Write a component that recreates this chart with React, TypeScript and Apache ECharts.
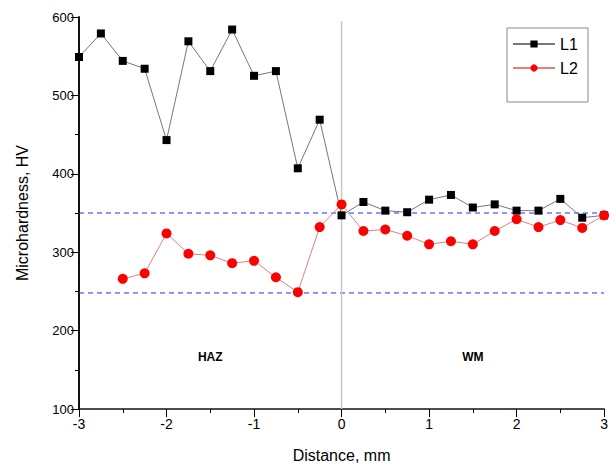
import React, { useEffect, useRef } from "react";
import * as echarts from "echarts";

const distances = [-3, -2.75, -2.5, -2.25, -2, -1.75, -1.5, -1.25, -1, -0.75, -0.5, -0.25, 0, 0.25, 0.5, 0.75, 1, 1.25, 1.5, 1.75, 2, 2.25, 2.5, 2.75, 3];
const l1Values = [549, 579, 544, 534, 443, 569, 531, 584, 525, 531, 407, 469, 347, 364, 353, 351, 367, 373, 357, 361, 353, 353, 368, 344, 347];
const l2Distances = [-2.5, -2.25, -2, -1.75, -1.5, -1.25, -1, -0.75, -0.5, -0.25, 0, 0.25, 0.5, 0.75, 1, 1.25, 1.5, 1.75, 2, 2.25, 2.5, 2.75, 3];
const l2Values = [266, 273, 324, 298, 296, 286, 289, 268, 249, 332, 361, 327, 329, 321, 310, 314, 310, 327, 342, 332, 341, 331, 347];
const limitLines = [350, 248];
const zeroLine = { x: 0, yFrom: 100, yTo: 595 };
const zoneLabels = [
  { name: "HAZ", x: -1.5, y: 166 },
  { name: "WM", x: 1.5, y: 166 },
];

const FONT = "Liberation Sans, Arial, sans-serif";

export default function App() {
  const ref = useRef<HTMLDivElement>(null);
  useEffect(() => {
    if (!ref.current) return;
    const chart = echarts.init(ref.current, null, { renderer: "svg" });
    const limitSeries = limitLines.map((v, i) => ({
      name: "limit" + i,
      type: "line",
      data: [[-3, v], [3, v]],
      symbol: "none",
      silent: true,
      lineStyle: { color: "#2a2aff", type: [5, 4], width: 1 },
      z: 1,
    }));
    chart.setOption({
      animation: false,
      textStyle: { fontFamily: FONT },
      grid: { left: 79, right: 2, top: 17, bottom: 59, containLabel: false },
      legend: {
        orient: "vertical",
        left: 512,
        top: 36,
        itemWidth: 42,
        itemHeight: 9,
        itemGap: 8,
        padding: 0,
        textStyle: { fontSize: 16, color: "#000", fontFamily: FONT },
        data: ["L1", "L2"],
      },
      graphic: [
        {
          type: "rect",
          shape: { x: 507, y: 28, width: 81, height: 74 },
          style: { fill: "none", stroke: "#888", lineWidth: 1 },
          z: 10,
        },
      ],
      xAxis: {
        type: "value",
        min: -3,
        max: 3,
        interval: 1,
        position: "bottom",
        name: "Distance, mm",
        nameLocation: "middle",
        nameGap: 38,
        nameTextStyle: { fontSize: 16, color: "#000", fontFamily: FONT },
        axisLine: { show: true, onZero: false, lineStyle: { color: "#111111", width: 1.5 } },
        axisTick: { show: true, inside: false, length: 8, lineStyle: { color: "#000" } },
        minorTick: { show: true, splitNumber: 2, length: 4, lineStyle: { color: "#000" } },
        axisLabel: { fontSize: 14, color: "#000", margin: 8, fontFamily: FONT },
        splitLine: { show: false },
      },
      yAxis: {
        type: "value",
        min: 100,
        max: 600,
        interval: 100,
        position: "left",
        name: "Microhardness, HV",
        nameLocation: "middle",
        nameGap: 49,
        nameTextStyle: { fontSize: 16, color: "#000", fontFamily: FONT },
        axisLine: { show: true, onZero: false, lineStyle: { color: "#111111", width: 2 } },
        axisTick: { show: true, inside: false, length: 8, lineStyle: { color: "#000" } },
        minorTick: { show: true, splitNumber: 2, length: 4, lineStyle: { color: "#000" } },
        axisLabel: { fontSize: 13, color: "#000", margin: 5, fontFamily: FONT },
        splitLine: { show: false },
      },
      series: [
        ...limitSeries,
        {
          name: "zero",
          type: "line",
          data: [[zeroLine.x, zeroLine.yFrom], [zeroLine.x, zeroLine.yTo]],
          symbol: "none",
          silent: true,
          lineStyle: { color: "#c8c8c8", width: 1.5 },
          z: 1,
        },
        {
          name: "L1",
          type: "line",
          data: distances.map((d, i) => [d, l1Values[i]]),
          symbol: "rect",
          symbolSize: 8,
          itemStyle: { color: "#000" },
          lineStyle: { color: "#777", width: 1 },
          z: 3,
          markPoint: {
            symbol: "circle",
            symbolSize: 0,
            label: {
              show: true,
              formatter: "{b}",
              fontSize: 12,
              fontWeight: "bold",
              color: "#000",
              fontFamily: FONT,
            },
            data: zoneLabels.map((z) => ({ name: z.name, coord: [z.x, z.y] })),
          },
        },
        {
          name: "L2",
          type: "line",
          data: l2Distances.map((d, i) => [d, l2Values[i]]),
          symbol: "circle",
          symbolSize: 10,
          itemStyle: { color: "#ff0000" },
          lineStyle: { color: "#e08080", width: 1 },
          z: 4,
        },
      ],
    });
    return () => chart.dispose();
  }, []);
  return <div ref={ref} style={{ width: 611, height: 468, position: "absolute", left: 0, top: 0, background: "#fff" }} />;
}
